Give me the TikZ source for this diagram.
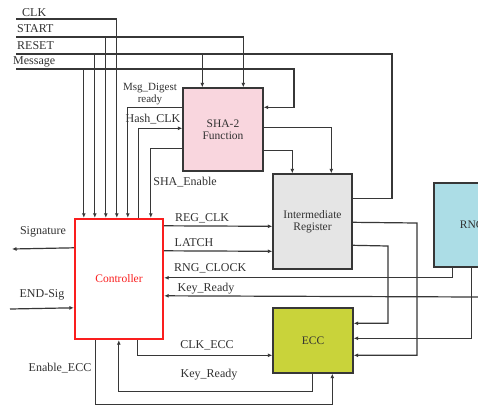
\documentclass[tikz,border=0pt]{standalone}
\usepackage{fontspec}
\setmainfont{Liberation Serif}
\usetikzlibrary{arrows.meta}
\definecolor{lc}{RGB}{55,55,55}
\definecolor{shafill}{RGB}{249,214,222}
\definecolor{regfill}{RGB}{229,229,229}
\definecolor{eccfill}{RGB}{201,211,58}
\definecolor{rngfill}{RGB}{172,221,230}
\definecolor{ctrlred}{RGB}{250,30,30}
\definecolor{txt}{RGB}{50,50,50}
\begin{document}
\begin{tikzpicture}[x=1pt,y=-1pt,
  wire/.style={draw=lc, line width=1.2pt},
  arr/.style={wire, -{Latex[length=4.5pt,width=4pt]}},
  box/.style={draw=lc, line width=1.4pt, inner sep=0pt, align=center, text=txt,
              font=\fontsize{11.5}{12}\selectfont},
  lbl/.style={inner sep=0pt, text=txt, font=\fontsize{12}{12}\selectfont},
  smalllbl/.style={inner sep=0pt, text=txt, font=\fontsize{11}{11}\selectfont}]
\useasboundingbox (0,0) rectangle (478,405);
\fill[white] (0,0) rectangle (478,405);
\clip (0,0) rectangle (478,405);

% boxes
\node[box, fill=shafill, minimum width=80pt, minimum height=83pt] (sha) at (223,129.5) {SHA-2\\Function};
\node[box, fill=regfill, minimum width=79pt, minimum height=95pt] (reg) at (312.5,221.5) {Intermediate\\Register};
\node[box, fill=eccfill, minimum width=80pt, minimum height=65pt] (ecc) at (313,340.5) {ECC};
\node[box, fill=rngfill, minimum width=76pt, minimum height=84pt] (rng) at (472,225) {RNG};
\node[box, draw=ctrlred, line width=2.4pt, fill=white, text=ctrlred, minimum width=88pt, minimum height=120pt] (ctrl) at (119,279) {Controller};

% free ends
\coordinate (clkin) at (16,19);
\coordinate (startin) at (16,37);
\coordinate (resetin) at (16,54);
\coordinate (msgin) at (16,69);
\coordinate (sigout) at (12,249);
\coordinate (endin) at (10,309);
\coordinate (keyin) at (480,297);

% inputs
\draw[arr] (clkin) -| ([xshift=43pt]ctrl.north west);
\draw[arr] (startin) -| ([xshift=32pt]ctrl.north west);
\draw[arr] (startin) -| ([xshift=61pt]sha.north west);
\draw[arr] (resetin) -| ([xshift=21pt]ctrl.north west);
\draw[arr] (resetin) -| ([xshift=20pt]sha.north west);
\draw[wire] (resetin) -- (392,54) |- ([yshift=-25pt]reg.north east);
\draw[arr] (msgin) -| ([xshift=10pt]ctrl.north west);
\draw[arr] (msgin) -- (294,69) |- ([yshift=-20pt]sha.north east);

% SHA <-> controller
\draw[arr] ([yshift=-20pt]sha.north west) -| ([xshift=54pt]ctrl.north west);
\draw[arr] ([xshift=65pt]ctrl.north west) |- ([yshift=-41pt]sha.north west);
\draw[arr] ([yshift=-61pt]sha.north west) -| ([xshift=77pt]ctrl.north west);

% SHA -> register
\draw[arr] ([yshift=-40pt]sha.north east) -| ([xshift=59pt]reg.north west);
\draw[arr] ([yshift=-63pt]sha.north east) -| ([xshift=20pt]reg.north west);

% controller -> register, RNG / key -> controller
\draw[arr] ([yshift=-8pt]ctrl.north east) -- ([yshift=-53pt]reg.north west);
\draw[arr] ([yshift=-33pt]ctrl.north east) -- ([yshift=-78pt]reg.north west);
\draw[arr] ([xshift=19pt]rng.south west) |- ([yshift=-60pt]ctrl.north east);
\draw[arr] (keyin) -- ([yshift=-78pt]ctrl.north east);

% register / RNG -> ECC
\draw[arr] ([yshift=-49pt]reg.north east) -- (417,223) |- ([yshift=-48pt]ecc.north east);
\draw[arr] ([yshift=-72pt]reg.north east) -- (388,246) |- ([yshift=-16pt]ecc.north east);
\draw[arr] ([xshift=38pt]rng.south west) |- ([yshift=-31pt]ecc.north east);

% controller <-> ECC
\draw[arr] ([xshift=64pt]ctrl.south west) |- ([yshift=-48pt]ecc.north west);
\draw[arr] ([xshift=40pt]ecc.south west) -- ++(0,18) -| ([xshift=45pt]ctrl.south west);
\draw[arr] ([xshift=22pt]ctrl.south west) -- ++(0,64) -| ([xshift=60pt]ecc.south west);

% left side
\draw[arr] ([yshift=-30pt]ctrl.north west) -- (sigout);
\draw[arr] (endin) -- ([yshift=-90pt]ctrl.north west);

% labels
\node[lbl, anchor=west] (lclk) at (22,13) {CLK};
\node[lbl, anchor=west] (lstart) at (17,29) {START};
\node[lbl, anchor=west] (lreset) at (17,46) {RESET};
\node[lbl, anchor=west] (lmsg) at (13,62) {Message};
\node[smalllbl] (lmd) at (150,88.5) {Msg\_Digest};
\node[smalllbl] (lrdy) at (150,99.5) {ready};
\node[lbl] (lhash) at (153,119) {Hash\_CLK};
\node[lbl] (lshaen) at (185,182) {SHA\_Enable};
\node[lbl] (lsig) at (43,232) {Signature};
\node[lbl] (lend) at (42,295) {END-Sig};
\node[lbl] (lenecc) at (60,368) {Enable\_ECC};
\node[lbl] (lclkecc) at (207,345) {CLK\_ECC};
\node[lbl] (lkr2) at (209,375) {Key\_Ready};
\node[lbl] (lregclk) at (202,218) {REG\_CLK};
\node[lbl] (llatch) at (194,243) {LATCH};
\node[lbl, anchor=west] (lrngclk) at (174,268) {RNG\_CLOCK};
\node[lbl] (lkr1) at (206,289) {Key\_Ready};
\end{tikzpicture}
\end{document}
